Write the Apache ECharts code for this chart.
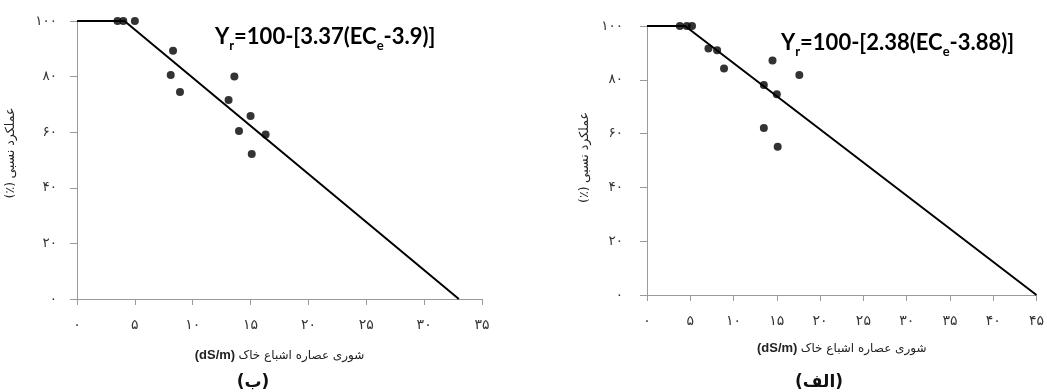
<!DOCTYPE html>
<html>
<head>
<meta charset="utf-8">
<script src="https://cdn.jsdelivr.net/npm/echarts@6/dist/echarts.min.js"></script>
<style>html,body{margin:0;padding:0;background:#fff;}#c{width:1047px;height:392px;}</style>
</head>
<body>
<div id="c"></div>
<script>
// ---- data ----
const faDigits = ['۰','۱','۲','۳','۴','۵','۶','۷','۸','۹'];

// chart (ب) – left
const leftX = [3.5, 4.0, 5.0, 8.3, 8.1, 8.9, 13.6, 13.1, 15.0, 14.0, 16.3, 15.1];
const leftY = [100, 100, 100, 89.3, 80.6, 74.5, 80.0, 71.6, 65.8, 60.4, 59.2, 52.2];
const leftLineX = [0, 4.1, 33.0];
const leftLineY = [100, 100, 0];
const leftEquation = ['Y', 'r', '=100-[3.37(EC', 'e', '-3.9)]'];
const leftTag = '(ب)';

// chart (الف) – right
const rightX = [3.8, 4.6, 5.2, 7.1, 8.1, 8.9, 14.5, 17.6, 13.5, 15.0, 13.5, 15.1];
const rightY = [100, 100, 100, 91.6, 91.0, 84.2, 87.2, 81.8, 78.1, 74.6, 62.1, 55.1];
const rightLineX = [0, 4.4, 45];
const rightLineY = [100, 100, 0];
const rightEquation = ['Y', 'r', '=100-[2.38(EC', 'e', '-3.88)]'];
const rightTag = '(الف)';

const xMaxLeft = 35, xMaxRight = 45, xStep = 5;
const yMax = 100, yStep = 20;
const xNameFa = 'شوری عصاره اشباع خاک';
const xNameUnit = '(dS/m)';
const yNameFa = 'عملکرد نسبی';
const yNameUnit = '(٪)';

// ---- helpers ----
const zip = (a, b) => a.map((v, i) => [v, b[i]]);
const fa = v => String(v).replace(/\d/g, d => faDigits[+d]);
const eqText = parts => `{m|${parts[0]}}{s|${parts[1]}}{m|${parts[2]}}{s|${parts[3]}}{m|${parts[4]}}`;

const axisColor = '#9a9a9a';
const faFont = 'DejaVu Sans';

function xAxis(idx, max, gap) {
  return {
    type: 'value', gridIndex: idx, min: 0, max: max, interval: xStep,
    name: `{b|${xNameUnit}} {a|${xNameFa}}`, nameLocation: 'middle', nameGap: gap,
    nameTextStyle: {
      rich: {
        a: {fontFamily: faFont, fontSize: 12, color: '#222'},
        b: {fontFamily: 'Liberation Sans', fontWeight: 'bold', fontSize: 13, color: '#222'}
      }
    },
    axisLine: {show: true, onZero: false, lineStyle: {color: axisColor, width: 1}},
    axisTick: {show: true, inside: false, length: 6, lineStyle: {color: axisColor}},
    axisLabel: {margin: 19, fontFamily: faFont, fontSize: 14, color: '#333', formatter: fa},
    splitLine: {show: false}
  };
}
function yAxis(idx, gap, lm, shift) {
  return {
    type: 'value', gridIndex: idx, min: 0, max: yMax, interval: yStep,
    name: `{u|${yNameUnit}} {a|${yNameFa}}`, nameLocation: 'middle', nameGap: gap, nameRotate: 90,
    nameTextStyle: {rich: {
      u: {fontFamily: faFont, fontSize: 12.5, color: '#222', padding: [0, 0, 0, shift]},
      a: {fontFamily: faFont, fontSize: 12.5, color: '#222'}
    }},
    axisLine: {show: true, onZero: false, lineStyle: {color: axisColor, width: 1}},
    axisTick: {show: true, inside: false, length: 7, lineStyle: {color: axisColor}},
    axisLabel: {margin: lm, fontFamily: faFont, fontSize: 13.5, color: '#333', formatter: fa},
    splitLine: {show: false}
  };
}

const eqRich = {
  m: {fontFamily: 'Lato', fontWeight: 'bold', fontSize: 22, color: '#111', lineHeight: 30,
      verticalAlign: 'bottom', padding: [0, 0, 4, 0]},
  s: {fontFamily: 'Lato', fontWeight: 'bold', fontSize: 13, color: '#111', verticalAlign: 'bottom'}
};

const chart = echarts.init(document.getElementById('c'), null, {renderer: 'canvas'});
chart.setOption({
  backgroundColor: '#fff',
  animation: false,
  grid: [
    {left: 77, top: 21, width: 405, height: 278},
    {left: 647, top: 26, width: 392, height: 269}
  ],
  xAxis: [xAxis(0, xMaxLeft, 50), xAxis(1, xMaxRight, 47)],
  yAxis: [yAxis(0, 60, 20, 14), yAxis(1, 56, 24, 6)],
  series: [
    {type: 'line', xAxisIndex: 0, yAxisIndex: 0, data: zip(leftLineX, leftLineY), showSymbol: false, symbol: 'none',
     lineStyle: {color: '#000', width: 2}, silent: true, z: 2},
    {type: 'scatter', xAxisIndex: 0, yAxisIndex: 0, data: zip(leftX, leftY), symbolSize: 8,
     itemStyle: {color: '#000'}, z: 3},
    {type: 'line', xAxisIndex: 1, yAxisIndex: 1, data: zip(rightLineX, rightLineY), showSymbol: false, symbol: 'none',
     lineStyle: {color: '#000', width: 2}, silent: true, z: 2},
    {type: 'scatter', xAxisIndex: 1, yAxisIndex: 1, data: zip(rightX, rightY), symbolSize: 8,
     itemStyle: {color: '#000'}, z: 3}
  ],
  graphic: [
    {type: 'text', left: 215, top: 26, style: {text: eqText(leftEquation), rich: eqRich}},
    {type: 'text', left: 781, top: 32, style: {text: eqText(rightEquation), rich: eqRich}},
    {type: 'text', x: 253, y: 383, style: {text: leftTag, fontFamily: faFont, fontWeight: 'bold', fontSize: 17,
      fill: '#111', align: 'center', verticalAlign: 'middle'}},
    {type: 'text', x: 819, y: 383, style: {text: rightTag, fontFamily: faFont, fontWeight: 'bold', fontSize: 17,
      fill: '#111', align: 'center', verticalAlign: 'middle'}}
  ]
});
</script>
</body>
</html>
